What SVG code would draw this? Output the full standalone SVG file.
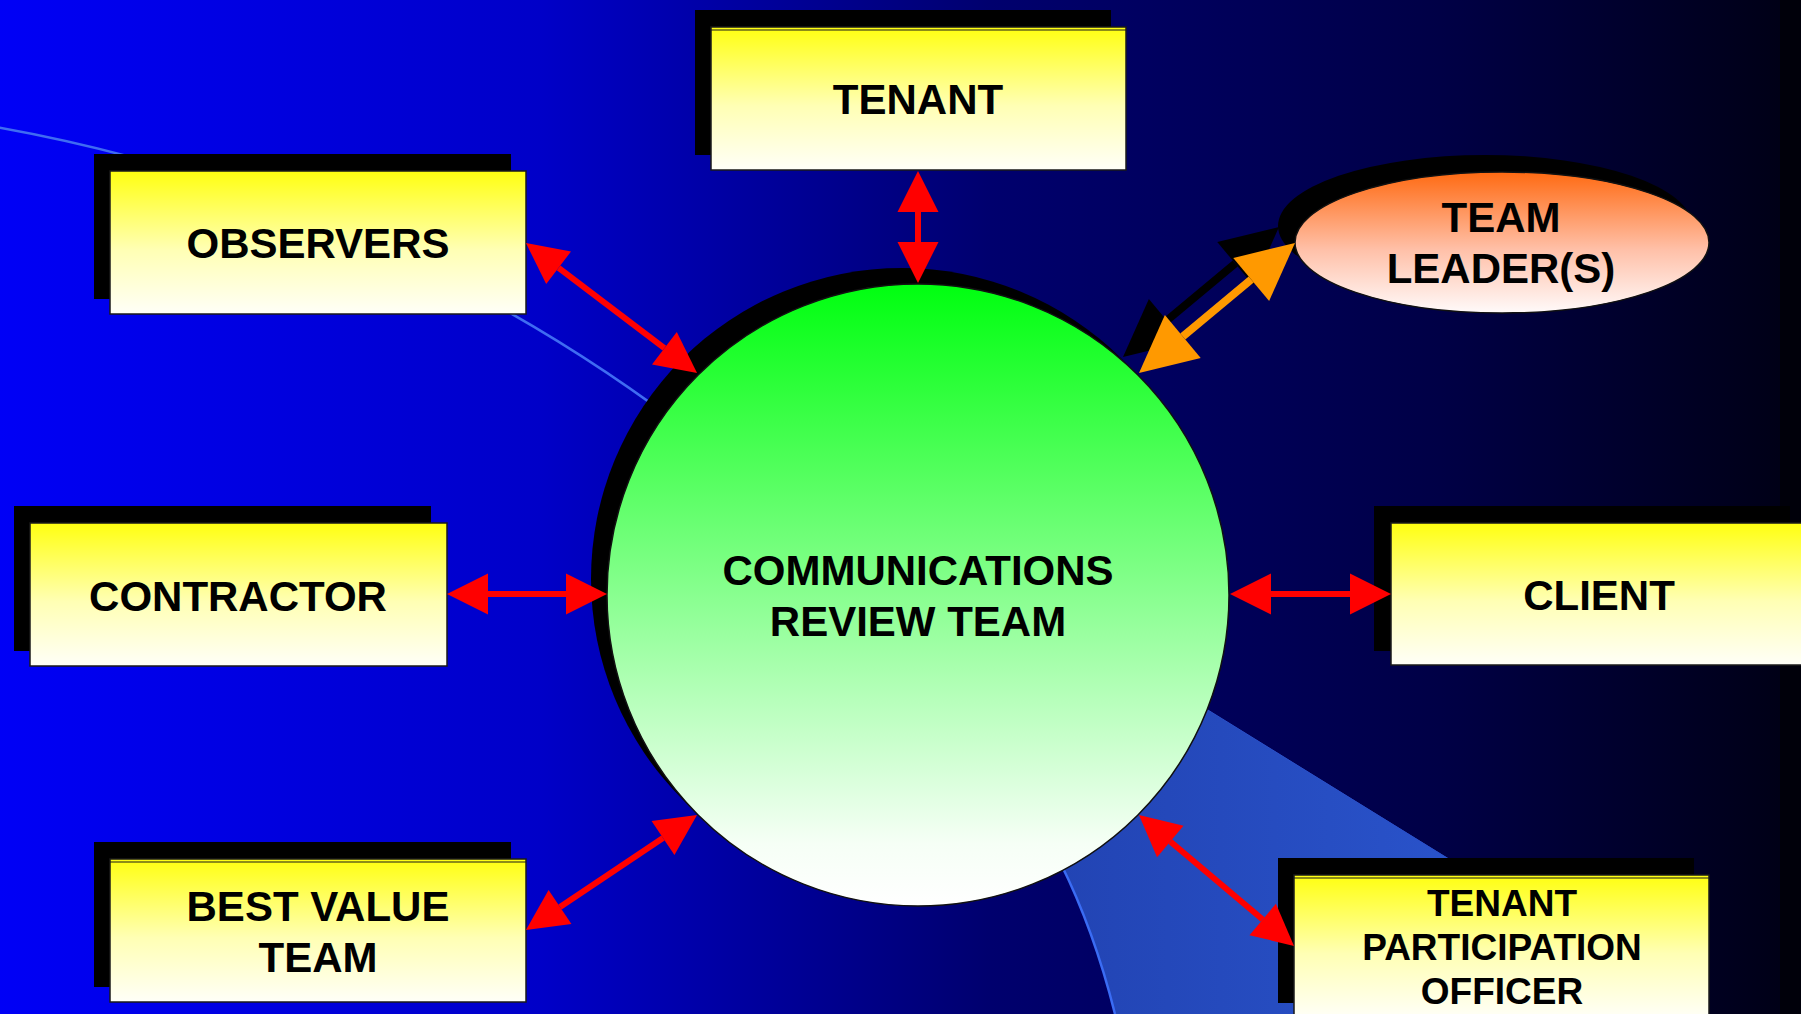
<svg xmlns="http://www.w3.org/2000/svg" width="1801" height="1014" viewBox="0 0 1801 1014">
<defs>
  <linearGradient id="bg" x1="0" y1="0" x2="1" y2="0">
    <stop offset="0" stop-color="#0000F6"/>
    <stop offset="0.3" stop-color="#0000C8"/>
    <stop offset="0.55" stop-color="#00006E"/>
    <stop offset="0.8" stop-color="#000046"/>
    <stop offset="1" stop-color="#000014"/>
  </linearGradient>
  <linearGradient id="box" x1="0" y1="0" x2="0" y2="1">
    <stop offset="0" stop-color="#FFFF10"/>
    <stop offset="0.55" stop-color="#FFFFB4"/>
    <stop offset="1" stop-color="#FFFFF8"/>
  </linearGradient>
  <linearGradient id="green" x1="0" y1="0" x2="0" y2="1">
    <stop offset="0" stop-color="#00FF10"/>
    <stop offset="0.9" stop-color="#F6FFF6"/>
    <stop offset="1" stop-color="#FFFFFF"/>
  </linearGradient>
  <linearGradient id="orange" x1="0" y1="0" x2="0" y2="1">
    <stop offset="0" stop-color="#FF6A12"/>
    <stop offset="0.55" stop-color="#FFC0A8"/>
    <stop offset="1" stop-color="#FFFAFA"/>
  </linearGradient>
  <linearGradient id="band" x1="0" y1="0" x2="1" y2="0">
    <stop offset="0" stop-color="#2244B4"/>
    <stop offset="1" stop-color="#2A54CC"/>
  </linearGradient>
  <marker id="redHead" markerUnits="userSpaceOnUse" markerWidth="42" markerHeight="42" refX="0" refY="20.5" orient="auto-start-reverse" viewBox="0 0 42 41" overflow="visible">
    <path d="M0,0 L41,20.5 L0,41 Z" fill="#FF0000"/>
  </marker>
  <marker id="orangeHead" markerUnits="userSpaceOnUse" markerWidth="58" markerHeight="56" refX="0" refY="28" orient="auto-start-reverse" viewBox="0 0 58 56" overflow="visible">
    <path d="M0,0 L57,28 L0,56 Z" fill="#FF9900"/>
  </marker>
  <marker id="blackHead" markerUnits="userSpaceOnUse" markerWidth="58" markerHeight="56" refX="0" refY="28" orient="auto-start-reverse" viewBox="0 0 58 56" overflow="visible">
    <path d="M0,0 L57,28 L0,56 Z" fill="#000000"/>
  </marker>
</defs>
<style>
  .shadow { fill: #000000; }
  .box { fill: url(#box); stroke: #1a1a1a; stroke-width: 1.5; }
  .topline { stroke: #1a1a1a; stroke-width: 1.2; }
  .label { font-family: "Liberation Sans", Arial, sans-serif; font-weight: bold; fill: #000000; text-anchor: middle; }
  .red { stroke: #FF0000; stroke-width: 6; fill: none; marker-start: url(#redHead); marker-end: url(#redHead); }
</style>

<!-- background -->
<rect x="0" y="0" width="1801" height="1014" fill="url(#bg)"/>
<rect x="1780" y="0" width="21" height="1014" fill="#00000A"/>

<!-- decorative swooshes -->
<path d="M1195,702 L1490,884 L1490,1014 L1115,1014 Q1094,930 1060,862 Z" fill="url(#band)"/>
<path d="M1060,862 Q1094,930 1115,1014" fill="none" stroke="#3A6CF4" stroke-width="2.5"/>
<path d="M1195,702 L1460,866" fill="none" stroke="#2A50C8" stroke-width="1"/>
<path d="M-10,126 A1606,1606 0 0 1 700,440" fill="none" stroke="#3F6CF2" stroke-width="2.5"/>

<!-- central node -->
<g id="node-crt">
  <circle cx="902" cy="579" r="311" class="shadow"/>
  <circle cx="918" cy="595" r="311" fill="url(#green)" stroke="#111" stroke-width="1.5"/>
  <text class="label" x="918" y="585" font-size="42">COMMUNICATIONS</text>
  <text class="label" x="918" y="636" font-size="42">REVIEW TEAM</text>
</g>

<g id="node-tenant">
  <rect x="695" y="10" width="416" height="145" class="shadow"/>
  <rect x="711" y="27" width="415" height="143" class="box"/>
  <line x1="711" y1="30" x2="1126" y2="30" class="topline"/>
  <text class="label" x="918" y="114" font-size="42">TENANT</text>
</g>

<g id="node-observers">
  <rect x="94" y="154" width="417" height="145" class="shadow"/>
  <rect x="110" y="171" width="416" height="143" class="box"/>
  <text class="label" x="318" y="258" font-size="42">OBSERVERS</text>
</g>

<g id="node-contractor">
  <rect x="14" y="506" width="417" height="145" class="shadow"/>
  <rect x="30" y="523" width="417" height="143" class="box"/>
  <text class="label" x="238" y="611" font-size="42">CONTRACTOR</text>
</g>

<g id="node-bestvalue">
  <rect x="94" y="842" width="417" height="145" class="shadow"/>
  <rect x="110" y="859" width="416" height="143" class="box"/>
  <line x1="110" y1="862" x2="526" y2="862" class="topline"/>
  <text class="label" x="318" y="921" font-size="42">BEST VALUE</text>
  <text class="label" x="318" y="972" font-size="42">TEAM</text>
</g>

<g id="node-client">
  <rect x="1374" y="506" width="416" height="145" class="shadow"/>
  <rect x="1391" y="523" width="415" height="142" class="box"/>
  <text class="label" x="1599" y="610" font-size="42">CLIENT</text>
</g>

<g id="node-tpo">
  <rect x="1278" y="858" width="416" height="145" class="shadow"/>
  <rect x="1294" y="875" width="415" height="143" class="box"/>
  <line x1="1294" y1="878" x2="1709" y2="878" class="topline"/>
  <text class="label" x="1502" y="916" font-size="37">TENANT</text>
  <text class="label" x="1502" y="960" font-size="37">PARTICIPATION</text>
  <text class="label" x="1502" y="1004" font-size="37">OFFICER</text>
</g>

<g id="node-teamleaders">
  <ellipse cx="1485" cy="226" rx="207" ry="71" class="shadow"/>
  <ellipse cx="1502" cy="242.5" rx="207" ry="70.5" fill="url(#orange)" stroke="#111" stroke-width="1.5"/>
  <text class="label" x="1501" y="232" font-size="42">TEAM</text>
  <text class="label" x="1501" y="283" font-size="42">LEADER(S)</text>
</g>

<!-- connectors -->
<g id="connectors">
  <line class="red" x1="918" y1="212" x2="918" y2="242"/>
  <line class="red" x1="558.6" y1="267.8" x2="664.4" y2="348.2"/>
  <line class="red" x1="488" y1="594" x2="566" y2="594"/>
  <line class="red" x1="1271" y1="594" x2="1350" y2="594"/>
  <line class="red" x1="560" y1="907.1" x2="663" y2="837.9"/>
  <line class="red" x1="1170.3" y1="841.5" x2="1262.7" y2="919.5"/>
  <line x1="1166.8" y1="320.5" x2="1235.2" y2="263.5" stroke="#000" stroke-width="8" marker-start="url(#blackHead)" marker-end="url(#blackHead)"/>
  <line x1="1182.8" y1="336.5" x2="1251.2" y2="279.5" stroke="#FF9900" stroke-width="8" marker-start="url(#orangeHead)" marker-end="url(#orangeHead)"/>
</g>
</svg>
